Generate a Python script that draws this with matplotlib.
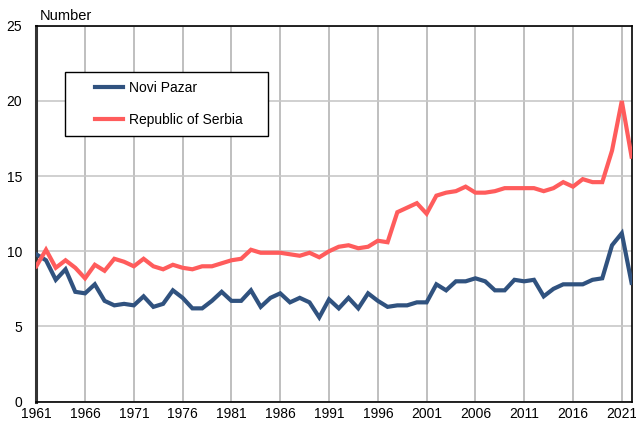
import matplotlib
matplotlib.use("Agg")
import matplotlib.pyplot as plt
from matplotlib.legend_handler import HandlerLine2D

plt.rcParams["font.family"] = ["Liberation Sans", "DejaVu Sans"]

COLOUR_NP = "#30527f"   # Novi Pazar
COLOUR_RS = "#ff5c5c"   # Republic of Serbia

years = list(range(1961, 2023))

novi_pazar = [
    9.8, 9.4, 8.1, 8.8, 7.3, 7.2, 7.8, 6.7, 6.4, 6.5,
    6.4, 7.0, 6.3, 6.5, 7.4, 6.9, 6.2, 6.2, 6.7, 7.3,
    6.7, 6.7, 7.4, 6.3, 6.9, 7.2, 6.6, 6.9, 6.6, 5.6,
    6.8, 6.2, 6.9, 6.2, 7.2, 6.7, 6.3, 6.4, 6.4, 6.6,
    6.6, 7.8, 7.4, 8.0, 8.0, 8.2, 8.0, 7.4, 7.4, 8.1,
    8.0, 8.1, 7.0, 7.5, 7.8, 7.8, 7.8, 8.1, 8.2, 10.4,
    11.2, 7.9,
]

serbia = [
    9.0, 10.1, 8.9, 9.4, 8.9, 8.2, 9.1, 8.7, 9.5, 9.3,
    9.0, 9.5, 9.0, 8.8, 9.1, 8.9, 8.8, 9.0, 9.0, 9.2,
    9.4, 9.5, 10.1, 9.9, 9.9, 9.9, 9.8, 9.7, 9.9, 9.6,
    10.0, 10.3, 10.4, 10.2, 10.3, 10.7, 10.6, 12.6, 12.9, 13.2,
    12.5, 13.7, 13.9, 14.0, 14.3, 13.9, 13.9, 14.0, 14.2, 14.2,
    14.2, 14.2, 14.0, 14.2, 14.6, 14.3, 14.8, 14.6, 14.6, 16.7,
    20.0, 16.3,
]

tick_years = list(range(1961, 2022, 5))
y_ticks = [0, 5, 10, 15, 20, 25]

fig = plt.figure(figsize=(6.36, 4.24), dpi=100)
ax = fig.add_axes([0.057, 0.053, 0.936, 0.886])

ax.plot(years, novi_pazar, color=COLOUR_NP, linewidth=3, label="Novi Pazar",
        solid_joinstyle="miter", zorder=3)
ax.plot(years, serbia, color=COLOUR_RS, linewidth=3, label="Republic of Serbia",
        solid_joinstyle="miter", zorder=3)

ax.set_xlim(1961, 2022)
ax.set_ylim(0, 25)
ax.set_xticks(tick_years)
ax.set_yticks(y_ticks)
ax.tick_params(axis="both", length=0, labelsize=10, colors="black")
ax.tick_params(axis="y", pad=10)
ax.tick_params(axis="x", pad=4)

ax.grid(axis="x", color="#b4b4b4", linewidth=1.2)
ax.grid(axis="y", color="#c8c8c8", linewidth=1.2)
ax.set_axisbelow(True)

for side in ["top", "right", "bottom"]:
    ax.spines[side].set_color("black")
    ax.spines[side].set_linewidth(1.2)
ax.spines["left"].set_color("#333333")
ax.spines["left"].set_linewidth(2.2)

fig.text(0.063, 0.962, "Number", fontsize=10.5, ha="left", va="center")

# legend box: wide left margin before the handles, expanded to a fixed width
leg = ax.legend(loc="upper left", bbox_to_anchor=(0.048, 0.877, 0.341, 0.0),
                mode="expand", fontsize=10, frameon=True, fancybox=False,
                framealpha=1, edgecolor="black", borderpad=0.62,
                labelspacing=1.32, handlelength=3.56, handletextpad=0.43,
                borderaxespad=0,
                handler_map={plt.Line2D: HandlerLine2D(xpad=1.53)})
leg.get_frame().set_linewidth(1.0)
for line in leg.get_lines():
    line.set_linewidth(3)

fig.savefig("out.png", dpi=100)
